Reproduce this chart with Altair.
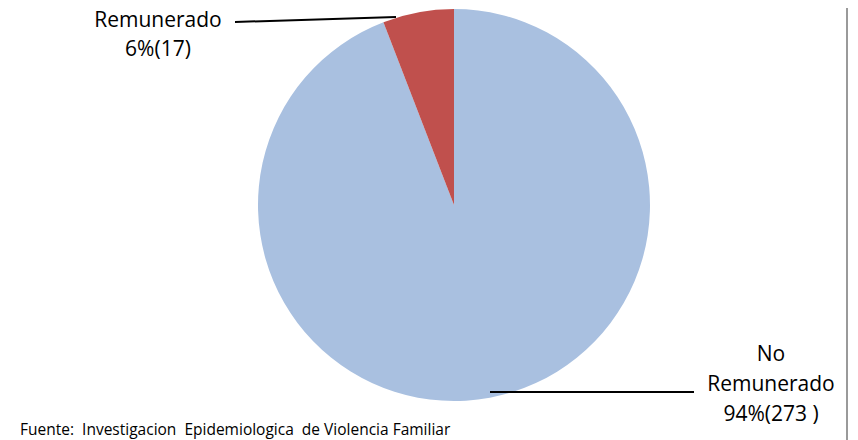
import altair as alt
import pandas as pd

categories = ["No Remunerado", "Remunerado"]
counts = [273, 17]
colors = ["#a9c0e0", "#c0504d"]

label_rem = ["Remunerado", "6%(17)"]
label_no = ["No", "Remunerado", "94%(273 )"]
source_text = "Fuente:\u00a0 Investigacion\u00a0 Epidemiologica\u00a0 de Violencia Familiar"

df = pd.DataFrame({"cat": categories, "n": counts, "ord": [0, 1]})

W, H = 842, 432
FONT = "Open Sans"
FS = 21

pie = alt.Chart(df).mark_arc(outerRadius=196).encode(
    theta=alt.Theta("n:Q", stack=True),
    order=alt.Order("ord:Q"),
    color=alt.Color("cat:N", scale=alt.Scale(domain=categories, range=colors), legend=None),
    x=alt.value(446),
    y=alt.value(197),
)

one = pd.DataFrame({"a": [0]})


def text_line(t, x, y, size=FS, align="center"):
    return alt.Chart(pd.DataFrame({"t": [t]})).mark_text(
        font=FONT, fontSize=size, align=align, baseline="alphabetic", color="#000000"
    ).encode(text="t:N", x=alt.value(x), y=alt.value(y))


layers = [pie]
layers.append(alt.Chart(one).mark_rule(color="#000000", strokeWidth=2).encode(
    x=alt.value(227), x2=alt.value(388), y=alt.value(14), y2=alt.value(9)))
layers.append(alt.Chart(one).mark_rule(color="#000000", strokeWidth=2).encode(
    x=alt.value(482), x2=alt.value(686), y=alt.value(384), y2=alt.value(384)))

for i, t in enumerate(label_rem):
    layers.append(text_line(t, 150, 19 + 29 * i))
for i, t in enumerate(label_no):
    layers.append(text_line(t, 763, 353 + 30 * i))

layers.append(text_line(source_text, 12, 427, size=15.5, align="left"))
layers.append(alt.Chart(one).mark_rule(color="#9a9a9a", strokeWidth=2).encode(
    x=alt.value(839), y=alt.value(0), y2=alt.value(432)))

chart = alt.layer(*layers).properties(
    width=W, height=H, padding=0, autosize=alt.AutoSizeParams(type="none")
).configure_view(stroke=None)

chart.save("out.html", embed_options={"renderer": "svg", "actions": False})
